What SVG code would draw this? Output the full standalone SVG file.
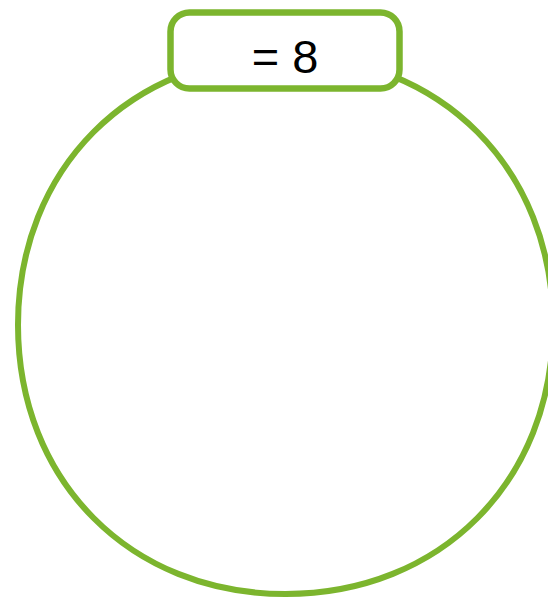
<svg xmlns="http://www.w3.org/2000/svg" width="548" height="597" viewBox="0 0 548 597">
  <style>
    .outline { fill: none; stroke: #7cb52e; stroke-width: 6; }
    .label-box { fill: #ffffff; stroke: #7cb52e; stroke-width: 6.5; }
    .label { font-family: "Liberation Sans", Arial, sans-serif; font-size: 47px; fill: #000000; text-anchor: middle; }
  </style>
  <rect width="548" height="597" fill="#ffffff"/>
  <g id="circle">
    <path class="outline" d="M 553 325 C 553 481, 440.65 594, 285.5 594 C 130.35 594, 18 481, 18 325 C 18 169, 130.35 56, 285.5 56 C 440.65 56, 553 169, 553 325 Z"/>
  </g>
  <g id="label-node">
    <rect class="label-box" x="170.5" y="12.5" width="229" height="76" rx="19" ry="19"/>
    <text class="label" x="285" y="73">= 8</text>
  </g>
</svg>
